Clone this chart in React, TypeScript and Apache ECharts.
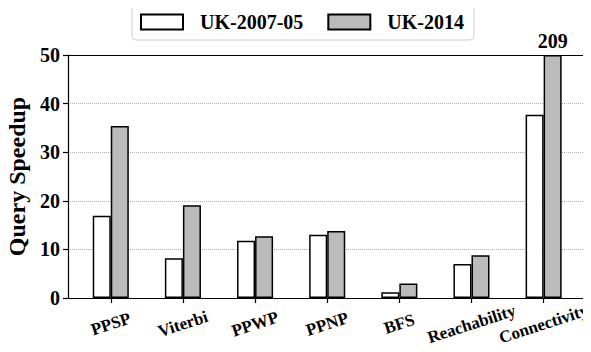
import React, { useEffect, useRef } from "react";
import * as echarts from "echarts";

const categories = ["PPSP", "Viterbi", "PPWP", "PPNP", "BFS", "Reachability", "Connectivity"];
const seriesNames = ["UK-2007-05", "UK-2014"];
const uk2007 = [16.9, 8.2, 11.8, 13.0, 1.2, 7.0, 37.7];
const uk2014 = [35.4, 19.1, 12.7, 13.8, 3.0, 8.8, 209];
const yMin = 0;
const yMax = 50;
const yInterval = 10;

const FONT = "'Liberation Serif', 'Times New Roman', serif";

export default function App() {
  const ref = useRef<HTMLDivElement>(null);
  useEffect(() => {
    if (!ref.current) return;
    const chart = echarts.init(ref.current, undefined, { renderer: "svg" });
    const toData = (arr: number[]) =>
      arr.map((v) => ({
        value: Math.min(v, yMax),
        label: {
          show: v > yMax,
          position: "top",
          formatter: String(v),
          fontFamily: FONT,
          fontWeight: "bold",
          fontSize: 20,
          color: "#000",
          distance: 4,
        },
      }));
    const gridTop = 55;
    const gridBottom = 54;
    chart.setOption({
      animation: false,
      legend: {
        data: seriesNames,
        left: 132,
        top: 4,
        padding: [8, 10, 8, 8],
        itemGap: 24,
        itemWidth: 42,
        itemHeight: 15,
        icon: "rect",
        borderColor: "#d0d0d0",
        borderWidth: 1,
        borderRadius: 4,
        textStyle: {
          fontFamily: FONT,
          fontWeight: "bold",
          fontSize: 20,
          color: "#000",
          padding: [0, 0, 0, 12],
        },
      },
      grid: [
        { left: 68, right: 5, top: gridTop, bottom: gridBottom, outerBoundsMode: "none", containLabel: false },
        { left: 74.7, right: 11.3, top: gridTop, bottom: gridBottom, outerBoundsMode: "none", containLabel: false },
      ],
      xAxis: [
        {
          gridIndex: 0,
          type: "value",
          min: 0,
          max: 1,
          position: "bottom",
          axisLine: { show: true, lineStyle: { color: "#000", width: 1.2 } },
          axisTick: { show: false },
          axisLabel: { show: false },
          splitLine: { show: false },
        },
        {
          gridIndex: 0,
          type: "value",
          min: 0,
          max: 1,
          position: "top",
          axisLine: { show: true, onZero: false, lineStyle: { color: "#000", width: 1.2 } },
          axisTick: { show: false },
          axisLabel: { show: false },
          splitLine: { show: false },
        },
        {
          gridIndex: 1,
          type: "category",
          data: categories,
          axisLine: { show: false },
          axisTick: {
            show: true,
            alignWithLabel: true,
            length: 5,
            lineStyle: { color: "#000", width: 1.2 },
          },
          axisLabel: {
            rotate: 18,
            align: "center",
            verticalAlign: "middle",
            margin: 26,
            fontFamily: FONT,
            fontWeight: "bold",
            fontSize: 17,
            color: "#000",
            interval: 0,
          },
        },
      ],
      yAxis: [
        {
          gridIndex: 0,
          type: "value",
          min: yMin,
          max: yMax,
          interval: yInterval,
          name: "Query Speedup",
          nameLocation: "middle",
          nameGap: 36,
          nameTextStyle: {
            fontFamily: FONT,
            fontWeight: "bold",
            fontSize: 24,
            color: "#000",
          },
          axisLine: { show: true, lineStyle: { color: "#000", width: 1.2 } },
          axisTick: { show: true, length: 5, lineStyle: { color: "#000", width: 1.2 } },
          axisLabel: {
            margin: 8,
            fontFamily: FONT,
            fontWeight: "bold",
            fontSize: 20,
            color: "#000",
          },
          splitLine: {
            show: true,
            lineStyle: { type: "dotted", color: "#b0b0b0", width: 1 },
          },
        },
        {
          gridIndex: 0,
          type: "value",
          min: yMin,
          max: yMax,
          position: "right",
          axisLine: { show: true, onZero: false, lineStyle: { color: "#000", width: 1.2 } },
          axisTick: { show: false },
          axisLabel: { show: false },
          splitLine: { show: false },
        },
        {
          gridIndex: 1,
          type: "value",
          min: yMin,
          max: yMax,
          show: false,
        },
      ],
      series: [
        {
          name: seriesNames[0],
          type: "bar",
          xAxisIndex: 2,
          yAxisIndex: 2,
          data: toData(uk2007),
          barGap: "0%",
          barCategoryGap: "50%",
          clip: true,
          itemStyle: { color: "#ffffff", borderColor: "#000", borderWidth: 1.5 },
        },
        {
          name: seriesNames[1],
          type: "bar",
          xAxisIndex: 2,
          yAxisIndex: 2,
          data: toData(uk2014),
          barGap: "0%",
          barCategoryGap: "50%",
          clip: true,
          itemStyle: { color: "#bbbbbb", borderColor: "#000", borderWidth: 1.5 },
        },
      ],
    });
    return () => chart.dispose();
  }, []);
  return <div ref={ref} style={{ width: 591, height: 352, margin: -8 }} />;
}
